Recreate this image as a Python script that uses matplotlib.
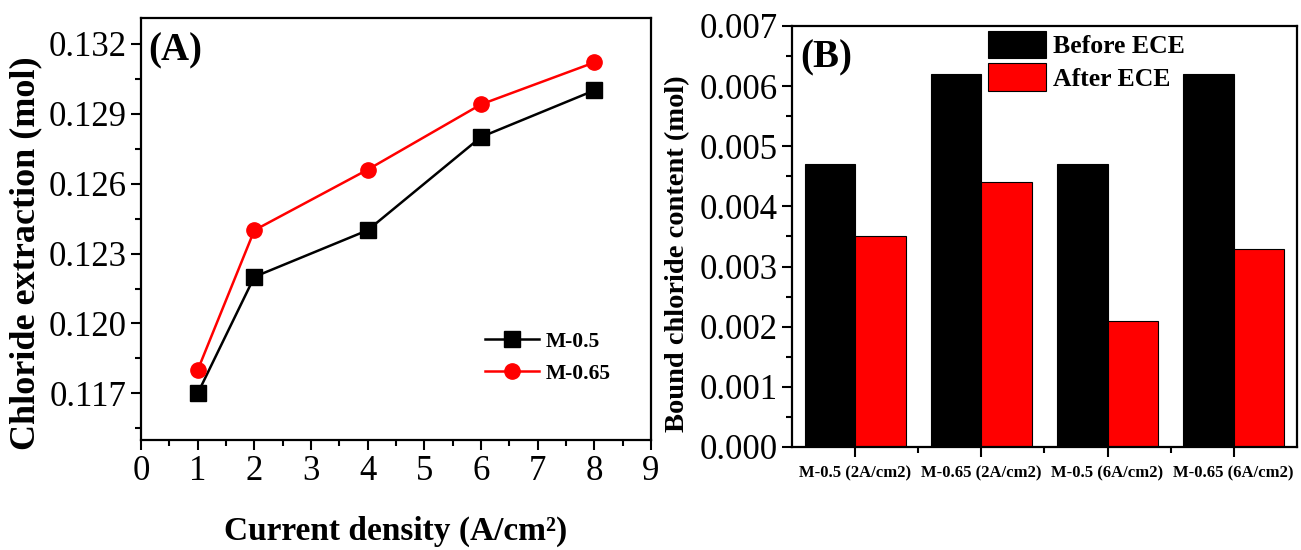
import matplotlib
matplotlib.use("Agg")
import matplotlib.pyplot as plt
from matplotlib.ticker import MultipleLocator, FixedLocator, FormatStrFormatter
import numpy as np

plt.rcParams['font.family'] = ['Liberation Serif', 'DejaVu Serif']

# panel A data
current = [1, 2, 4, 6, 8]
m05 = [0.117, 0.122, 0.124, 0.128, 0.130]
m065 = [0.118, 0.124, 0.1266, 0.1294, 0.1312]

# panel B data
samples = ["M-0.5 (2A/cm2)", "M-0.65 (2A/cm2)", "M-0.5 (6A/cm2)", "M-0.65 (6A/cm2)"]
before_ece = [0.0047, 0.0062, 0.0047, 0.0062]
after_ece = [0.0035, 0.0044, 0.0021, 0.0033]

fig = plt.figure(figsize=(13.01, 5.5), dpi=100)
ax1 = fig.add_axes([0.1084, 0.2, 0.392, 0.767])
ax2 = fig.add_axes([0.6088, 0.1873, 0.388, 0.7655])

# ---- (A)
ax1.plot(current, m05, color="black", marker="s", ms=11, lw=1.8, label="M-0.5")
ax1.plot(current, m065, color="red", marker="o", ms=11, lw=1.8, label="M-0.65")
ax1.set_xlim(0, 9)
ax1.set_ylim(0.115, 0.1331)
ax1.xaxis.set_major_locator(MultipleLocator(1))
ax1.xaxis.set_minor_locator(MultipleLocator(0.5))
ax1.yaxis.set_major_locator(FixedLocator([0.117, 0.120, 0.123, 0.126, 0.129, 0.132]))
ax1.yaxis.set_minor_locator(FixedLocator(np.arange(0.1155, 0.1331, 0.0015)))
ax1.yaxis.set_major_formatter(FormatStrFormatter("%.3f"))
ax1.set_xlabel("Current density (A/cm²)", fontsize=24, fontweight="bold", labelpad=20)
ax1.set_ylabel("Chloride extraction (mol)", fontsize=26, fontweight="bold")
ax1.yaxis.set_label_coords(-0.193, 0.443)
ax1.text(0.014, 0.965, "(A)", transform=ax1.transAxes, fontsize=28, fontweight="bold",
         va="top", ha="left")
ax1.legend(loc="center left", bbox_to_anchor=(0.675, 0.195), frameon=False,
           prop={"size": 15.5, "weight": "bold"}, handlelength=2.5,
           handletextpad=0.3, borderpad=0, borderaxespad=0, labelspacing=0.55)

# ---- (B)
x = np.arange(len(samples))
ax2.bar(x - 0.2, before_ece, width=0.4, color="black", edgecolor="black", lw=0.8,
        label="Before ECE")
ax2.bar(x + 0.2, after_ece, width=0.4, color="red", edgecolor="black", lw=0.8,
        label="After ECE")
ax2.set_xlim(-0.5, 3.5)
ax2.set_ylim(0, 0.007)
ax2.set_xticks(x)
ax2.set_xticklabels(samples, fontsize=12, fontweight="bold")
ax2.xaxis.set_minor_locator(FixedLocator([0.5, 1.5, 2.5]))
ax2.yaxis.set_major_locator(MultipleLocator(0.001))
ax2.yaxis.set_minor_locator(MultipleLocator(0.0005))
ax2.yaxis.set_major_formatter(FormatStrFormatter("%.3f"))
ax2.set_ylabel("Bound chloride content (mol)", fontsize=20.5, fontweight="bold")
ax2.yaxis.set_label_coords(-0.202, 0.458)
ax2.text(0.016, 0.967, "(B)", transform=ax2.transAxes, fontsize=28, fontweight="bold",
         va="top", ha="left")
ax2.legend(loc="upper left", bbox_to_anchor=(0.388, 0.988), frameon=False,
           prop={"size": 18.5, "weight": "bold"}, handlelength=2.25, handleheight=1.25,
           handletextpad=0.3, borderpad=0, borderaxespad=0, labelspacing=0.2)

for ax in (ax1, ax2):
    for s in ax.spines.values():
        s.set_linewidth(1.6)
    ax.tick_params(which="major", direction="out", length=7, width=1.5)
    ax.tick_params(which="minor", direction="out", length=4, width=1.5)
    ax.tick_params(axis="y", labelsize=25)
ax1.tick_params(axis="x", labelsize=25)
ax2.tick_params(axis="x", which="major", pad=6)

fig.savefig("out.png", dpi=100)
